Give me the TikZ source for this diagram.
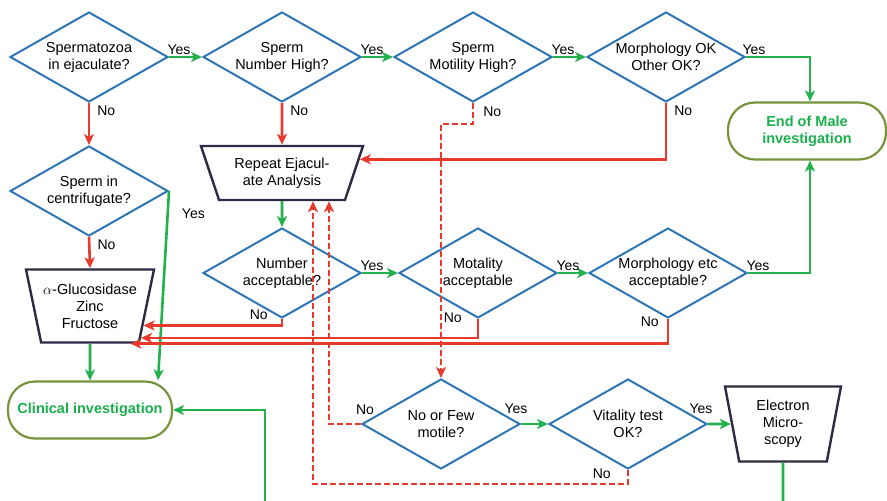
\documentclass[tikz,border=0pt]{standalone}
\usepackage{fontspec}
\setmainfont{Liberation Sans}
\usetikzlibrary{arrows.meta,calc,shapes.geometric}
\definecolor{decblue}{HTML}{2E75B6}
\definecolor{yesgreen}{HTML}{22B14C}
\definecolor{nored}{HTML}{E83A2C}
\definecolor{endgreen}{HTML}{19B04B}
\definecolor{termolive}{HTML}{77933C}
\definecolor{procnavy}{HTML}{2E2A45}
\tikzset{dec/.style={diamond,draw=decblue,line width=2pt,aspect=1.75,minimum width=158pt,minimum height=90pt,inner sep=0pt,align=center},
  proc/.style={trapezium,trapezium stretches body,draw=procnavy,line width=2.4pt,align=center,inner sep=1pt},
  term/.style={rectangle,rounded corners=27pt,draw=termolive,line width=2.2pt,minimum height=57pt,align=center,
    text=endgreen,font=\fontsize{14.5}{17}\selectfont\bfseries},
  arrtip/.style={-{Stealth[length=11pt,width=10pt,inset=3pt]}},
  yarr/.style={arrtip,draw=yesgreen,line width=2.6pt},
  narr/.style={arrtip,draw=nored,line width=2.6pt},
  ndash/.style={narr,dash pattern=on 6pt off 3pt},
  lab/.style={inner sep=1pt,font=\fontsize{14}{16}\selectfont}}
\begin{document}
\begin{tikzpicture}[x=1pt,y=-1pt,font=\fontsize{14.5}{17}\selectfont]
\useasboundingbox (0,0) rectangle (887,501);
\node[dec] (d1) at (89,57) {Spermatozoa\\in ejaculate?};
\node[dec] (d2) at (282,57) {Sperm\\Number High?};
\node[dec] (d3) at (473,57) {Sperm\\Motility High?};
\node[dec] (d4) at (666,57) {Morphology OK\\Other OK?};
\node[term,minimum width=158pt] (endm) at (807,131) {End of Male\\investigation};
\node[dec] (d5) at (89,191) {Sperm in\\centrifugate?};
\node[proc,trapezium left angle=119,trapezium right angle=119,minimum width=162pt,minimum height=54pt] (rep) at (282,173) {Repeat Ejacul-\\ate Analysis};
\node[dec] (d6) at (282,273) {Number\\acceptable?};
\node[dec] (d7) at (478,273) {Motality\\acceptable};
\node[dec] (d8) at (668,273) {Morphology etc\\acceptable?};
\node[proc,trapezium left angle=108,trapezium right angle=108,minimum width=128pt,minimum height=73pt,inner xsep=-8pt] (glu) at (90,306) {$\alpha$-Glucosidase\\Zinc\\Fructose};
\node[term,minimum width=164pt] (clin) at (90,410) {Clinical investigation};
\node[dec] (d9) at (441,424) {No or Few\\motile?};
\node[dec] (d10) at (628,424) {Vitality test\\OK?};
\node[proc,trapezium left angle=106,trapezium right angle=106,minimum width=116pt,minimum height=75pt] (em) at (783,424) {Electron\\Micro-\\scopy};
\coordinate (clbot) at (265,505);
\coordinate (embot) at (783,505);

\foreach \a/\b in {d1/d2,d2/d3,d3/d4,d6/d7,d7/d8}
  \draw[yarr] (\a.east) -- node[lab,pos=0,above,xshift=10pt] (y\a) {Yes} (\b.west);
\draw[yarr] (d9.east) -- node[lab,pos=0,above=8pt,xshift=-5pt] (yd9) {Yes} (d10.west);
\draw[yarr] (d10.east) -- node[lab,pos=0,above=8pt,xshift=-7pt] (yd10) {Yes} (em);
\draw[yarr] (d4.east) -| node[lab,pos=0,above,xshift=8pt] (yd4) {Yes} ([xshift=3pt]endm.north);
\draw[yarr] (d8.east) -| node[lab,pos=0,above,xshift=10pt] (yd8) {Yes} ([xshift=3pt]endm.south);
\draw[yarr] (rep.south) -- (d6.north);
\draw[yarr] (glu.south) -- (clin.north);
\draw[yarr] (d5.east) -- node[lab,pos=0.12,right=12pt] (yd5) {Yes} ([xshift=68pt]clin.north);
\draw[yarr] (clbot) |- (clin.east);
\draw[yesgreen,line width=2.6pt] (em.south) -- (embot);

\draw[narr] (d1.south) -- node[lab,pos=0.18,right=6pt] (nd1) {No} (d5.north);
\draw[narr] (d2.south) -- node[lab,pos=0.18,right=6pt] (nd2) {No} (rep.north);
\draw[narr] (d5.south) -- node[lab,pos=0.24,right=6pt] (nd5) {No} (glu.north);
\draw[narr] (d4.south) |- node[lab,pos=0.07,right=6pt] (nd4) {No} (rep.10);
\foreach \a/\ang/\dx/\dy in {d6/-20/12/4,d7/-32/14/1,d8/-43/7/-3}
  \draw[narr] (\a.south) |- node[lab,pos=0,left=\dx pt,yshift=\dy pt] (n\a) {No} (glu.\ang);

\draw[ndash] (d3.south) -- node[lab,pos=0.4,right=8pt] (nd3) {No} ++(0,21) -| (d9.north);
\draw[ndash] (d9.west) -| node[lab,pos=0,above=7pt,xshift=4pt] (nd9) {No} ([xshift=47pt]rep.south);
\draw[ndash] (d10.south) -- node[lab,pos=0.3,left=15pt] (nd10) {No} ++(0,14) -| ([xshift=31pt]rep.south);
\end{tikzpicture}
\end{document}
